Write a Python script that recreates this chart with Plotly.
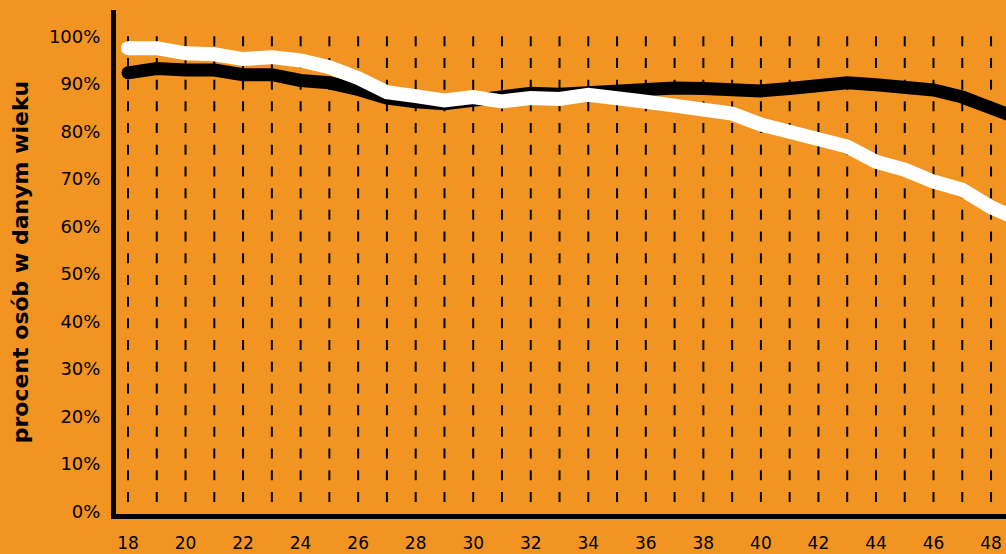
import plotly.graph_objects as go

ages = list(range(18, 50))
white_series = [97.5, 97.5, 96.4, 96.2, 95.2, 95.6, 94.9, 93.5, 91.2, 88.2, 87.4, 86.5,
                87.2, 86.3, 87.0, 86.8, 87.7, 87.2, 86.2, 85.4, 84.7, 83.7, 81.4, 79.7,
                78.4, 76.8, 73.6, 71.9, 69.4, 67.7, 64.0, 61.3]
black_series = [92.3, 93.2, 92.9, 92.9, 91.9, 91.9, 90.7, 90.2, 88.8, 87.0, 86.2, 85.8,
                86.5, 87.3, 88.0, 87.8, 88.2, 88.7, 89.0, 89.1, 89.0, 88.8, 88.5, 89.0,
                89.9, 90.2, 89.8, 89.4, 88.7, 87.2, 85.2, 82.6]
x_ticks = list(range(18, 50, 2))
y_ticks = list(range(0, 101, 10))
y_tick_labels = [f"{v}%" for v in y_ticks]

BG = "#F29421"
FONT = "DejaVu Sans"

fig = go.Figure()

fig.add_trace(go.Scatter(x=ages, y=black_series, mode="lines",
                         line=dict(color="#000000", width=13), hoverinfo="skip",
                         showlegend=False))
fig.add_trace(go.Scatter(x=ages[:1], y=black_series[:1], mode="markers",
                         marker=dict(color="#000000", size=13), hoverinfo="skip",
                         showlegend=False))
fig.add_trace(go.Scatter(x=ages, y=white_series, mode="lines",
                         line=dict(color="#FFFFFF", width=14), hoverinfo="skip",
                         showlegend=False))
fig.add_trace(go.Scatter(x=ages[:1], y=white_series[:1], mode="markers",
                         marker=dict(color="#FFFFFF", size=14), hoverinfo="skip",
                         showlegend=False))

shapes = []
for a in ages:
    shapes.append(dict(type="line", xref="x", yref="y", x0=a, x1=a, y0=100, y1=-0.5,
                       line=dict(color="#000000", width=2, dash="10px,11.7px"),
                       layer="below"))

fig.update_layout(
    width=1006, height=554,
    margin=dict(l=116, r=0, t=10, b=40),
    paper_bgcolor=BG, plot_bgcolor=BG,
    shapes=shapes,
    font=dict(family=FONT, color="#000000"),
    showlegend=False,
)
fig.update_xaxes(range=[17.583, 48.52], tickvals=x_ticks, ticktext=[str(v) for v in x_ticks],
                 showgrid=False, zeroline=False, showline=True, linecolor="#000000",
                 linewidth=5, ticks="", ticklabelstandoff=10, automargin=False,
                 tickfont=dict(family=FONT, size=17, color="#000000"))
fig.update_yaxes(range=[-0.58, 105.53], tickvals=y_ticks, ticktext=y_tick_labels,
                 showgrid=False, zeroline=False, showline=True, linecolor="#000000",
                 linewidth=5, ticks="", ticklabelstandoff=7, automargin=False,
                 tickfont=dict(family=FONT, size=18, color="#000000"),
                 title=dict(text="<b>procent osób w danym wieku</b>",
                            font=dict(family=FONT, size=22, color="#000000"),
                            standoff=16))

fig.write_html("out.html", config={"displayModeBar": False},
               post_script="document.body.style.margin='0';document.body.style.overflow='hidden';")
